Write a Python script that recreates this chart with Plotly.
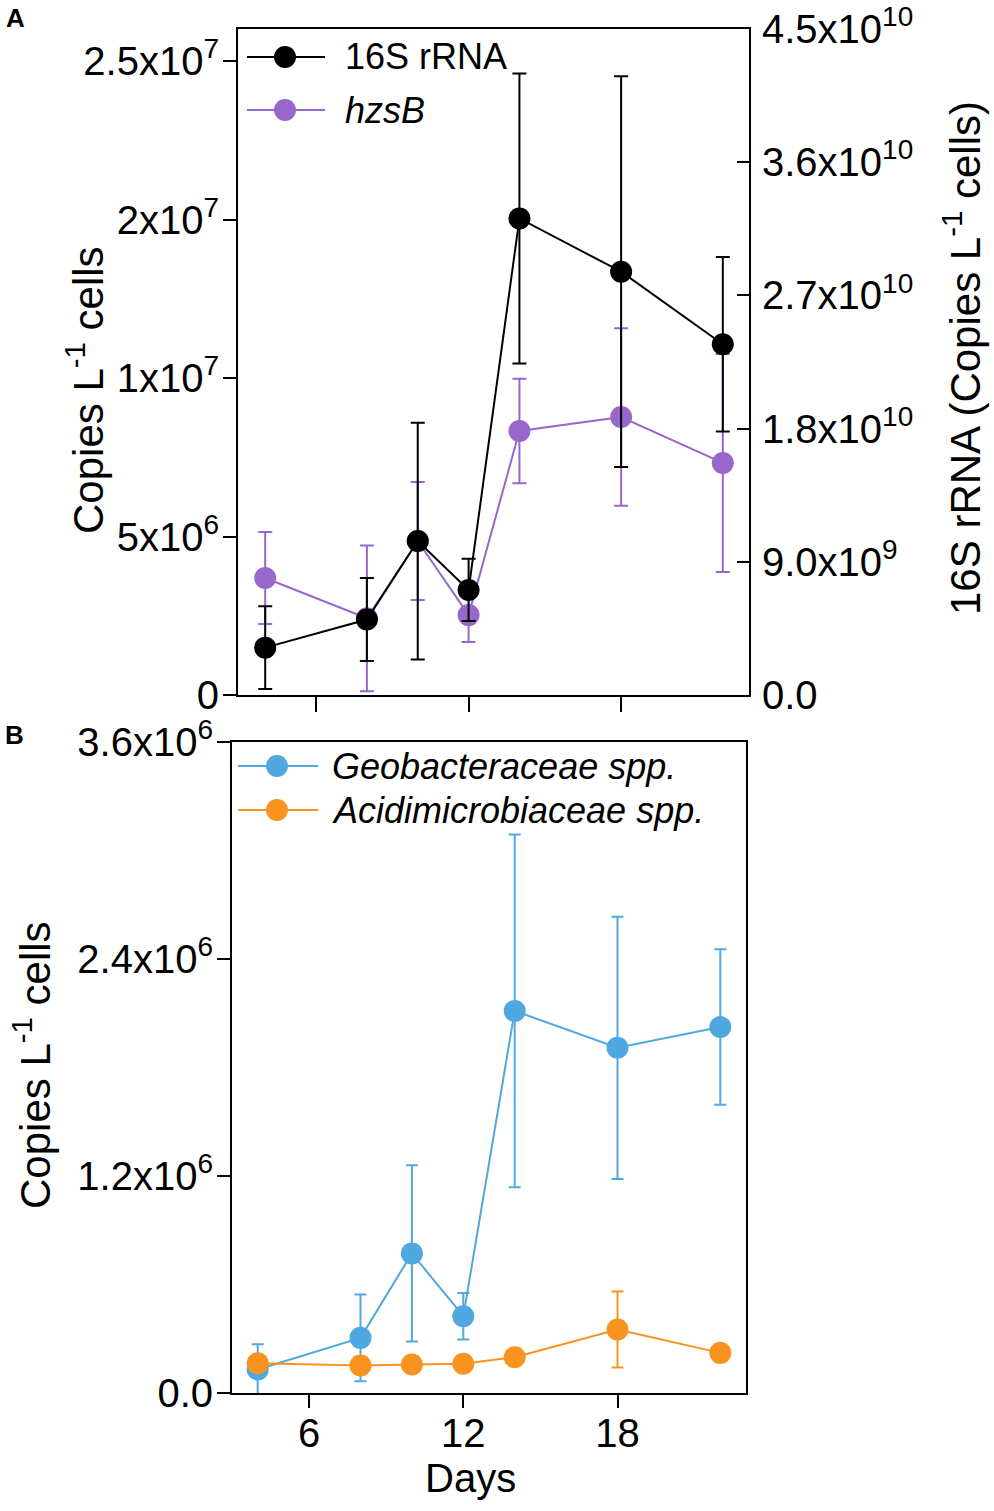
import plotly.graph_objects as go

# sampling days (shared by both panels)
days = [4, 8, 10, 12, 14, 18, 22]

# panel A: 16S rRNA (right axis) and hzsB (left axis)
rrna_16s = [3.2e9, 5.1e9, 1.04e10, 7.1e9, 3.22e10, 2.86e10, 2.37e10]
rrna_16s_err = [2.8e9, 2.8e9, 8.0e9, 2.1e9, 9.8e9, 1.32e10, 5.9e9]
hzsb = [3.69e6, 2.42e6, 4.86e6, 2.52e6, 8.33e6, 8.77e6, 7.32e6]
hzsb_err = [1.45e6, 2.3e6, 1.86e6, 0.85e6, 1.65e6, 2.8e6, 3.44e6]

# panel B: Geobacteraceae and Acidimicrobiaceae
geo = [0.13e6, 0.305e6, 0.772e6, 0.4245e6, 2.113e6, 1.909e6, 2.024e6]
geo_err = [0.14e6, 0.24e6, 0.487e6, 0.128e6, 0.975e6, 0.725e6, 0.43e6]
acidi = [0.165e6, 0.152e6, 0.158e6, 0.162e6, 0.198e6, 0.351e6, 0.222e6]
acidi_err = [0.03e6, 0.03e6, 0.03e6, 0.03e6, 0.03e6, 0.21e6, 0.03e6]

# tick labels as printed on the figure
left_a_vals = [0, 5e6, 1e7, 1.5e7, 2e7]
left_a_text = ["0", "5x10<sup>6</sup>", "1x10<sup>7</sup>", "2x10<sup>7</sup>", "2.5x10<sup>7</sup>"]
right_a_vals = [0, 9e9, 1.8e10, 2.7e10, 3.6e10, 4.5e10]
right_a_text = ["0.0", "9.0x10<sup>9</sup>", "1.8x10<sup>10</sup>", "2.7x10<sup>10</sup>",
                "3.6x10<sup>10</sup>", "4.5x10<sup>10</sup>"]
left_b_vals = [0, 1.2e6, 2.4e6, 3.6e6]
left_b_text = ["0.0", "1.2x10<sup>6</sup>", "2.4x10<sup>6</sup>", "3.6x10<sup>6</sup>"]
day_ticks = [6, 12, 18]

BLACK = "#000000"
PURPLE = "#9966cc"
BLUE = "#4fa8e0"
ORANGE = "#f7931e"

W, H = 994, 1511
FONT = "Arial, Liberation Sans, sans-serif"


def px(x):
    return x / W


def py(y):
    return 1 - y / H


def series(x, y, err, color, name, xa, ya, cap):
    return go.Scatter(x=x, y=y, mode="lines+markers", name=name, xaxis=xa, yaxis=ya,
                      line=dict(color=color, width=2),
                      marker=dict(color=color, size=22, line=dict(width=0)),
                      error_y=dict(type="data", array=err, color=color, thickness=2, width=cap),
                      showlegend=False)


fig = go.Figure()
fig.add_trace(series(days, hzsb, hzsb_err, PURPLE, "hzsB", "x", "y", 7))
fig.add_trace(series(days, rrna_16s, rrna_16s_err, BLACK, "16S rRNA", "x", "y2", 7))
fig.add_trace(series(days, geo, geo_err, BLUE, "Geobacteraceae spp.", "x2", "y3", 6))
fig.add_trace(series(days, acidi, acidi_err, ORANGE, "Acidimicrobiaceae spp.", "x2", "y3", 6))

tickfont = dict(family=FONT, size=40, color="black")
axis_common = dict(showgrid=False, zeroline=False, showline=True, linecolor="black",
                   linewidth=2, tickcolor="black", tickwidth=2, tickfont=tickfont,
                   automargin=False)

fig.update_layout(
    template="none",
    width=W, height=H, autosize=False,
    margin=dict(l=0, r=0, t=0, b=0, pad=0, autoexpand=False),
    paper_bgcolor="white", plot_bgcolor="white",
    font=dict(family=FONT, color="black"),
    xaxis=dict(domain=[px(238), px(749)], range=[2.93, 23.03], anchor="y",
               tickvals=day_ticks, ticks="outside", ticklen=15, showticklabels=False,
               mirror=True, **axis_common),
    yaxis=dict(domain=[py(695), py(29)], range=[0, 2.101e7], anchor="x",
               tickvals=left_a_vals, ticktext=left_a_text, ticks="outside", ticklen=13,
               ticklabelstandoff=-4, **axis_common),
    yaxis2=dict(range=[0, 4.5e10], overlaying="y", side="right", anchor="x",
                tickvals=right_a_vals, ticktext=right_a_text, ticks="inside", ticklen=12,
                ticklabelstandoff=3, **axis_common),
    xaxis2=dict(domain=[px(232), px(746)], range=[3.0, 23.0], anchor="y3",
                tickvals=day_ticks, ticks="outside", ticklen=13, mirror=True,
                ticklabelstandoff=-9, **axis_common),
    yaxis3=dict(domain=[py(1393), py(742)], range=[0, 3.6e6], anchor="x2",
                tickvals=left_b_vals, ticktext=left_b_text, ticks="outside", ticklen=13,
                mirror=True, ticklabelstandoff=-4, **axis_common),
)

# axis titles and panel letters
notes = [
    dict(text="Copies L<sup>-1</sup> cells", x=px(85), y=py(390), textangle=-90, size=42),
    dict(text="16S rRNA (Copies L<sup>-1</sup> cells)", x=px(962), y=py(358), textangle=-90, size=42),
    dict(text="Copies L<sup>-1</sup> cells", x=px(32), y=py(1065), textangle=-90, size=42),
    dict(text="Days", x=px(470), y=py(1478), textangle=0, size=40),
    dict(text="<b>A</b>", x=px(15), y=py(18), textangle=0, size=26),
    dict(text="<b>B</b>", x=px(14), y=py(735), textangle=0, size=26),
]
for n in notes:
    fig.add_annotation(text=n["text"], x=n["x"], y=n["y"], xref="paper", yref="paper",
                       showarrow=False, textangle=n["textangle"],
                       xanchor="center", yanchor="middle",
                       font=dict(family=FONT, size=n["size"], color="black"))

# legend keys drawn by hand (line, dot, label) to match the long key lines
legend_rows = [
    ("16S rRNA", BLACK, 247, 325, 285, 57, 343),
    ("<i>hzsB</i>", PURPLE, 247, 325, 285, 110, 343),
    ("<i>Geobacteraceae spp.</i>", BLUE, 238, 318, 277, 766, 330),
    ("<i>Acidimicrobiaceae spp.</i>", ORANGE, 238, 318, 277, 810, 330),
]
for label, color, x0, x1, cx, cy, tx in legend_rows:
    fig.add_shape(type="line", xref="paper", yref="paper",
                  x0=px(x0), x1=px(x1), y0=py(cy), y1=py(cy),
                  line=dict(color=color, width=2))
    fig.add_shape(type="circle", xref="paper", yref="paper",
                  x0=px(cx - 11), x1=px(cx + 11), y0=py(cy + 11), y1=py(cy - 11),
                  fillcolor=color, line=dict(width=0))
    fig.add_annotation(text=label, x=px(tx), y=py(cy), xref="paper", yref="paper",
                       showarrow=False, xanchor="left", yanchor="middle",
                       font=dict(family=FONT, size=36, color="black"))

# drop the default page margin so the figure sits at the top-left corner
fig.write_html("out.html", config={"displayModeBar": False},
               post_script="document.body.style.margin='0';")
